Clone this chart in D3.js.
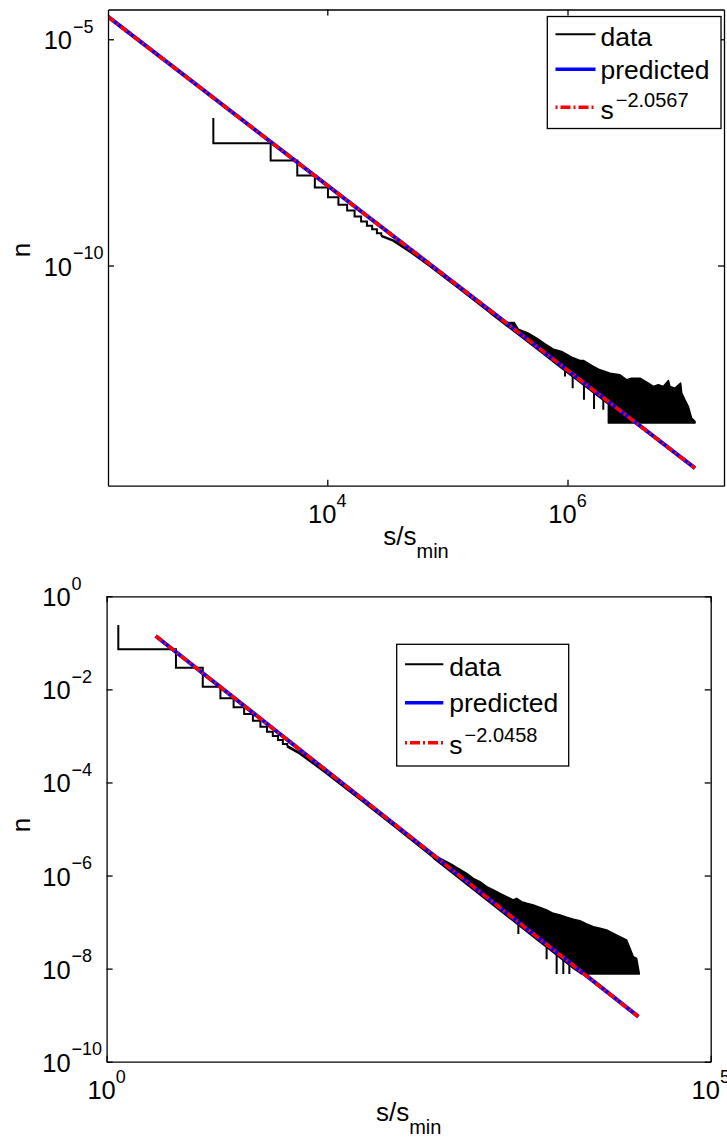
<!DOCTYPE html>
<html><head><meta charset="utf-8">
<script src="https://cdn.jsdelivr.net/npm/d3@7/dist/d3.min.js"></script>
<style>
html,body{margin:0;padding:0;background:#fff;}
svg text{font-family:"Liberation Sans",Arial,Helvetica,sans-serif;fill:#000;}
</style></head>
<body><svg id="chart" width="727" height="1141"></svg>
<script>
// ================= TOP PANEL DATA =================
const topStepS = [1125, 1125, 3375, 5625, 7875, 10125, 12375, 14625, 16875, 19125, 21375, 23625, 25875, 28125];
const topStepN = [1.83e-7, 5.05e-8, 2.08e-8, 9.7e-9, 5.27e-9, 3.24e-9, 2.19e-9, 1.64e-9, 1.21e-9, 9.35e-10, 7.52e-10, 6.35e-10, 5.19e-10, 4.52e-10];
const topTrendS = [28125, 3.55e4, 5.01e4, 7.08e4, 1.26e5, 2.265e5];
const topTrendN = [4.52e-10, 3.55e-10, 1.95e-10, 1.0e-10, 3.09e-11, 9.3e-12];
const topUpS = [2.265e5, 3.112e5, 3.589e5, 3.899e5, 4.721e5, 5.534e5, 6.501e5, 7.621e5, 8.933e5, 1.084e6, 1.271e6, 1.355e6, 1.641e6, 1.866e6, 2.259e6, 2.735e6, 3.112e6, 3.420e6, 4.018e6, 4.710e6, 5.188e6, 5.702e6, 6.281e6, 6.918e6, 7.129e6, 7.852e6, 8.750e6, 8.933e6, 9.506e6, 1.014e7, 1.081e7, 1.153e7];
const topUpN = [1.084e-11, 5.51e-12, 5.51e-12, 3.92e-12, 3.20e-12, 2.48e-12, 1.858e-12, 1.419e-12, 1.259e-12, 9.44e-13, 7.96e-13, 7.96e-13, 5.87e-13, 4.95e-13, 4.18e-13, 3.85e-13, 2.98e-13, 3.24e-13, 3.24e-13, 2.51e-13, 2.12e-13, 2.31e-13, 2.12e-13, 2.88e-13, 2.12e-13, 1.95e-13, 2.51e-13, 1.51e-13, 1.08e-13, 7.67e-14, 4.24e-14, 3.58e-14];
const topLowS = [2.265e5, 3.112e5, 5.902e5, 8.670e5, 1.271e6, 2.188e6, 2.188e6, 1.153e7];
const topLowN = [8.89e-12, 4.65e-12, 1.259e-12, 5.68e-13, 2.60e-13, 8.65e-14, 3.29e-14, 3.29e-14];
const topSpikeS = [9.53e5, 1.104e6, 1.371e6, 1.663e6, 1.986e6];
const topSpikeTop = [5.41e-13, 4.0e-13, 2.57e-13, 1.73e-13, 1.21e-13];
const topSpikeBot = [3.53e-13, 1.95e-13, 1.08e-13, 6.7e-14, 6.49e-14];
const topPredS = [149.3, 1.1525e7];
const topPredN = [3.155e-5, 3.33e-15];
const topPowS = [149.3, 1.1525e7];
const topPowN = [3.155e-5, 3.33e-15];
const topXTicks = [1e4, 1e6];
const topXTickExp = ["4", "6"];
const topYTicks = [1e-10, 1e-5];
const topYTickExp = ["\u221210", "\u22125"];
const topExponent = "\u22122.0567";

// ================= BOTTOM PANEL DATA =================
const botStepS = [1.25, 1.25, 3.75, 6.25, 8.75, 11.25, 13.75, 16.25, 18.75, 21.25, 23.75, 26.25, 28.75, 31.25];
const botStepN = [0.2415, 0.0726, 0.0292, 0.01143, 0.00643, 0.00412, 0.00296, 0.00212, 0.00158, 0.00123, 0.000995, 0.000817, 0.00067, 6.0e-4];
const botTrendS = [31.25, 39.8, 63.1, 125.9, 251.2, 505.8];
const botTrendN = [6.0e-4, 4.2e-4, 1.75e-4, 4.36e-5, 1.06e-5, 2.5e-6];
const botUpS = [505.8, 612.4, 695.0, 814.7, 955.0, 1084, 1230, 1400, 1589, 1803, 2046, 2323, 2477, 2723, 2999, 3404, 3864, 4385, 4977, 5662, 6427, 7295, 8279, 9397, 10690, 12130, 13770, 15630, 17740, 18920, 20140, 21480, 22910, 24380, 25640];
const botUpN = [2.76e-6, 2.16e-6, 1.828e-6, 1.429e-6, 1.114e-6, 8.71e-7, 7.38e-7, 5.77e-7, 4.89e-7, 4.15e-7, 3.52e-7, 2.98e-7, 3.24e-7, 2.75e-7, 2.53e-7, 2.33e-7, 2.07e-7, 1.82e-7, 1.54e-7, 1.419e-7, 1.265e-7, 1.146e-7, 1.072e-7, 9.10e-8, 7.96e-8, 7.35e-8, 6.76e-8, 5.73e-8, 4.86e-8, 4.48e-8, 4.12e-8, 2.73e-8, 1.807e-8, 1.663e-8, 7.93e-9];
const botLowS = [505.8, 955.0, 1803, 3404, 5309, 7295, 8551, 25640];
const botLowN = [2.37e-6, 6.47e-7, 1.766e-7, 4.81e-8, 1.94e-8, 1.014e-8, 7.66e-9, 7.66e-9];
const botSpikeS = [2559, 4385, 5309, 6026, 6761];
const botSpikeTop = [1.0e-7, 3.33e-8, 2.25e-8, 1.74e-8, 1.38e-8];
const botSpikeBot = [5.55e-8, 1.58e-8, 7.66e-9, 7.66e-9, 7.66e-9];
const botPredS = [2.55, 25210];
const botPredN = [0.1403, 9.27e-10];
const botPowS = [2.55, 25210];
const botPowN = [0.1403, 9.27e-10];
const botXTicks = [1, 1e5];
const botXTickExp = ["0", "5"];
const botYTicks = [1e-10, 1e-8, 1e-6, 1e-4, 1e-2, 1];
const botYTickExp = ["\u221210", "\u22128", "\u22126", "\u22124", "\u22122", "0"];
const botExponent = "\u22122.0458";

const legendNames = ["data", "predicted", "s"];
const xLabelMain = "s/s";
const xLabelSub = "min";
const yLabelText = "n";

// ================= DRAWING =================
const svg = d3.select("#chart");
svg.append("rect").attr("width", 727).attr("height", 1141).attr("fill", "#fff");
const defs = svg.append("defs");

function drawPanel(p) {
  const x = d3.scaleLog().domain(p.xDom).range([p.L, p.R]);
  const y = d3.scaleLog().domain(p.yDom).range([p.B, p.T]);
  const g = svg.append("g");
  defs.append("clipPath").attr("id", p.id + "clip")
    .append("rect").attr("x", p.L).attr("y", p.T).attr("width", p.R - p.L).attr("height", p.B - p.T);
  const plot = g.append("g").attr("clip-path", `url(#${p.id}clip)`);

  const stepLine = d3.line().x(d => x(d[0])).y(d => y(d[1])).curve(d3.curveStepAfter);
  const linLine = d3.line().x(d => x(d[0])).y(d => y(d[1]));

  // data: stairs + trend + noisy tail
  plot.append("path").attr("d", stepLine(d3.zip(p.stepS, p.stepN)))
    .attr("fill", "none").attr("stroke", "#000").attr("stroke-width", 2);
  plot.append("path").attr("d", linLine(d3.zip(p.trendS, p.trendN)))
    .attr("fill", "none").attr("stroke", "#000").attr("stroke-width", 2.6).attr("stroke-linejoin", "round");
  const poly = d3.zip(p.upS, p.upN).concat(d3.zip(p.lowS, p.lowN).reverse());
  plot.append("path").attr("d", linLine(poly) + "Z")
    .attr("fill", "#000").attr("stroke", "#000").attr("stroke-width", 1.5).attr("stroke-linejoin", "round");
  plot.selectAll("line.spike").data(d3.range(p.spikeS.length)).join("line")
    .attr("x1", i => x(p.spikeS[i])).attr("x2", i => x(p.spikeS[i]))
    .attr("y1", i => y(p.spikeTop[i])).attr("y2", i => y(p.spikeBot[i]))
    .attr("stroke", "#000").attr("stroke-width", 2);

  // fits
  plot.append("path").attr("d", linLine(d3.zip(p.predS, p.predN)))
    .attr("fill", "none").attr("stroke", "#0000ff").attr("stroke-width", 4);
  plot.append("path").attr("d", linLine(d3.zip(p.powS, p.powN)))
    .attr("fill", "none").attr("stroke", "#ff0000").attr("stroke-width", 3.6)
    .attr("stroke-dasharray", "8,3,2,3");

  // axes (MATLAB box with inward ticks)
  const axStyle = sel => {
    sel.selectAll("path,line").attr("stroke", "#000").attr("stroke-width", 1.3);
    sel.selectAll("text").remove();
  };
  g.append("g").attr("transform", `translate(0,${p.B})`)
    .call(d3.axisBottom(x).tickValues(p.xTicks).tickSizeInner(-6).tickSizeOuter(0).tickFormat(() => "")).call(axStyle);
  g.append("g").attr("transform", `translate(0,${p.T})`)
    .call(d3.axisTop(x).tickValues(p.xTicks).tickSizeInner(-6).tickSizeOuter(0).tickFormat(() => "")).call(axStyle);
  g.append("g").attr("transform", `translate(${p.L},0)`)
    .call(d3.axisLeft(y).tickValues(p.yTicks).tickSizeInner(-6).tickSizeOuter(0).tickFormat(() => "")).call(axStyle);
  g.append("g").attr("transform", `translate(${p.R},0)`)
    .call(d3.axisRight(y).tickValues(p.yTicks).tickSizeInner(-6).tickSizeOuter(0).tickFormat(() => "")).call(axStyle);

  // x tick labels
  p.xTicks.forEach((t, i) => {
    const tx = g.append("text").attr("x", x(t)).attr("y", p.B + 37.6)
      .attr("text-anchor", "middle").attr("font-size", 25.5).text("10");
    tx.append("tspan").attr("dy", -16.6).attr("font-size", 18).text(p.xExp[i]);
  });
  // y tick labels
  p.yTicks.forEach((t, i) => {
    const by = y(t) + 10;
    g.append("text").attr("x", p.L - 36).attr("y", by)
      .attr("text-anchor", "end").attr("font-size", 25.5).text("10");
    g.append("text").attr("x", p.L - 35).attr("y", by - 16.6)
      .attr("text-anchor", "start").attr("font-size", 18).text(p.yExp[i]);
  });

  // axis labels
  const xl = g.append("text").attr("x", (p.L + p.R) / 2).attr("y", p.xLabelY)
    .attr("text-anchor", "middle").attr("font-size", 26).text(xLabelMain);
  xl.append("tspan").attr("dy", 12.5).attr("font-size", 20).text(xLabelSub);
  g.append("text").attr("transform", `translate(30,${p.yLabelCY}) rotate(-90)`)
    .attr("text-anchor", "middle").attr("font-size", 26).text(yLabelText);

  // legend
  const lg = p.legend;
  const leg = g.append("g");
  leg.append("rect").attr("x", lg.x).attr("y", lg.y).attr("width", lg.w).attr("height", lg.h)
    .attr("fill", "#fff").attr("stroke", "#000").attr("stroke-width", 1.3);
  const styles = [
    {stroke: "#000", w: 2, dash: null},
    {stroke: "#0000ff", w: 3.4, dash: null},
    {stroke: "#ff0000", w: 3.4, dash: "2,3,10,3"}
  ];
  styles.forEach((s, i) => {
    const ln = leg.append("line").attr("x1", lg.lx1).attr("x2", lg.lx2)
      .attr("y1", lg.ly[i]).attr("y2", lg.ly[i])
      .attr("stroke", s.stroke).attr("stroke-width", s.w);
    if (s.dash) ln.attr("stroke-dasharray", s.dash);
    const t = leg.append("text").attr("x", lg.tx).attr("y", lg.ty[i]).attr("font-size", 26.5).text(legendNames[i]);
    if (i === 2) t.append("tspan").attr("dx", 2).attr("dy", -12).attr("font-size", 20).text(p.exponent);
  });
}

drawPanel({
  id: "top", L: 108, R: 724, T: 9.5, B: 485.7,
  xDom: [149.3, 2.009e7], yDom: [1.36e-15, 4.55e-5],
  stepS: topStepS, stepN: topStepN, trendS: topTrendS, trendN: topTrendN,
  upS: topUpS, upN: topUpN, lowS: topLowS, lowN: topLowN,
  spikeS: topSpikeS, spikeTop: topSpikeTop, spikeBot: topSpikeBot,
  predS: topPredS, predN: topPredN, powS: topPowS, powN: topPowN,
  xTicks: topXTicks, xExp: topXTickExp, yTicks: topYTicks, yExp: topYTickExp,
  exponent: topExponent, xLabelY: 545, yLabelCY: 250,
  legend: {x: 547.3, y: 16.5, w: 173.7, h: 112, lx1: 555.5, lx2: 595.5, ly: [34.3, 69.3, 107.3], tx: 600.5, ty: [46, 78.5, 118.5]}
});
drawPanel({
  id: "bot", L: 106.6, R: 710.7, T: 596.3, B: 1061.7,
  xDom: [1, 1e5], yDom: [1e-10, 1],
  stepS: botStepS, stepN: botStepN, trendS: botTrendS, trendN: botTrendN,
  upS: botUpS, upN: botUpN, lowS: botLowS, lowN: botLowN,
  spikeS: botSpikeS, spikeTop: botSpikeTop, spikeBot: botSpikeBot,
  predS: botPredS, predN: botPredN, powS: botPowS, powN: botPowN,
  xTicks: botXTicks, xExp: botXTickExp, yTicks: botYTicks, yExp: botYTickExp,
  exponent: botExponent, xLabelY: 1121, yLabelCY: 825,
  legend: {x: 396.7, y: 644.3, w: 172, h: 121.7, lx1: 405, lx2: 443.3, ly: [664.3, 702.7, 742.7], tx: 449.3, ty: [675.5, 712, 753.5]}
});
</script></body></html>
